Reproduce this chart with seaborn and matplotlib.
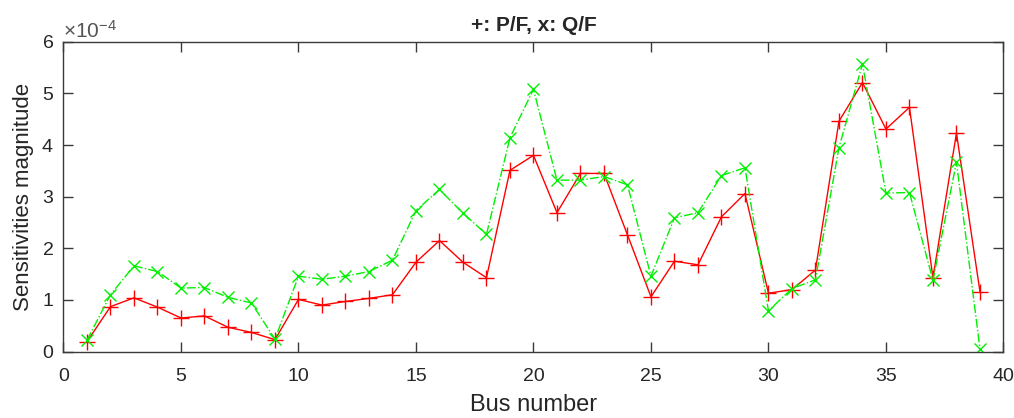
import numpy as np
import pandas as pd
import matplotlib
matplotlib.use("Agg")
import matplotlib.pyplot as plt
import seaborn as sns

# sensitivities per bus, read in units of 1e-4
bus = list(range(1, 40))
p_f = [0.19, 0.87, 1.04, 0.86, 0.65, 0.69, 0.47, 0.37, 0.23, 1.01,
       0.90, 0.97, 1.03, 1.10, 1.73, 2.15, 1.73, 1.43, 3.51, 3.80,
       2.69, 3.45, 3.45, 2.26, 1.06, 1.75, 1.68, 2.61, 3.06, 1.13,
       1.20, 1.58, 4.46, 5.21, 4.31, 4.73, 1.43, 4.23, 1.16]
q_f = [0.22, 1.10, 1.66, 1.55, 1.23, 1.24, 1.05, 0.94, 0.24, 1.46,
       1.40, 1.46, 1.55, 1.77, 2.73, 3.14, 2.68, 2.27, 4.14, 5.08,
       3.32, 3.32, 3.39, 3.23, 1.46, 2.59, 2.69, 3.41, 3.56, 0.79,
       1.22, 1.39, 3.95, 5.57, 3.07, 3.08, 1.38, 3.67, 0.05]
scale = 1e-4

df = pd.DataFrame({"bus": bus,
                   "pf": np.array(p_f) * scale,
                   "qf": np.array(q_f) * scale})

sns.set_style("ticks")
plt.rcParams["font.family"] = ["Liberation Sans", "DejaVu Sans"]
plt.rcParams["mathtext.fontset"] = "custom"
plt.rcParams["mathtext.rm"] = "Liberation Sans"
plt.rcParams["mathtext.it"] = "Liberation Sans"

axis_col = "#3a3a3a"
fig = plt.figure(figsize=(10.14, 4.18), dpi=100)
ax = fig.add_axes([0.0626, 0.159, 0.927, 0.741])

sns.lineplot(data=df, x="bus", y="pf", ax=ax, color="#ff0000", lw=1.0,
             marker="+", markersize=11, markeredgecolor="#ff0000",
             markeredgewidth=1.0)
sns.lineplot(data=df, x="bus", y="qf", ax=ax, color="#00f000", lw=1.0,
             linestyle="-.", marker="x", markersize=9,
             markeredgecolor="#00f000", markeredgewidth=1.0)

ax.set_xlim(0, 40)
ax.set_ylim(0, 6e-4)
ax.set_xticks(np.arange(0, 41, 5))
ax.set_yticks(np.arange(0, 7) * 1e-4)
ax.ticklabel_format(axis="y", style="sci", scilimits=(0, 0), useMathText=True)

ax.tick_params(direction="in", length=7, width=1.0, color=axis_col,
               labelsize=14, labelcolor="#262626", top=True, right=True)
ax.tick_params(axis="x", pad=11.5)
ax.tick_params(axis="y", pad=7)
for s in ax.spines.values():
    s.set_visible(True)
    s.set_color(axis_col)
    s.set_linewidth(1.0)

off = ax.yaxis.get_offset_text()
off.set_fontsize(15)
off.set_color("#555555")

ax.set_title("+: P/F, x: Q/F", fontsize=15, fontweight="bold", pad=8)
ax.set_xlabel("Bus number", fontsize=17, color="#262626", labelpad=7)
ax.set_ylabel("Sensitivities magnitude", fontsize=16, color="#262626", labelpad=5)

fig.savefig("out.png", dpi=100)
